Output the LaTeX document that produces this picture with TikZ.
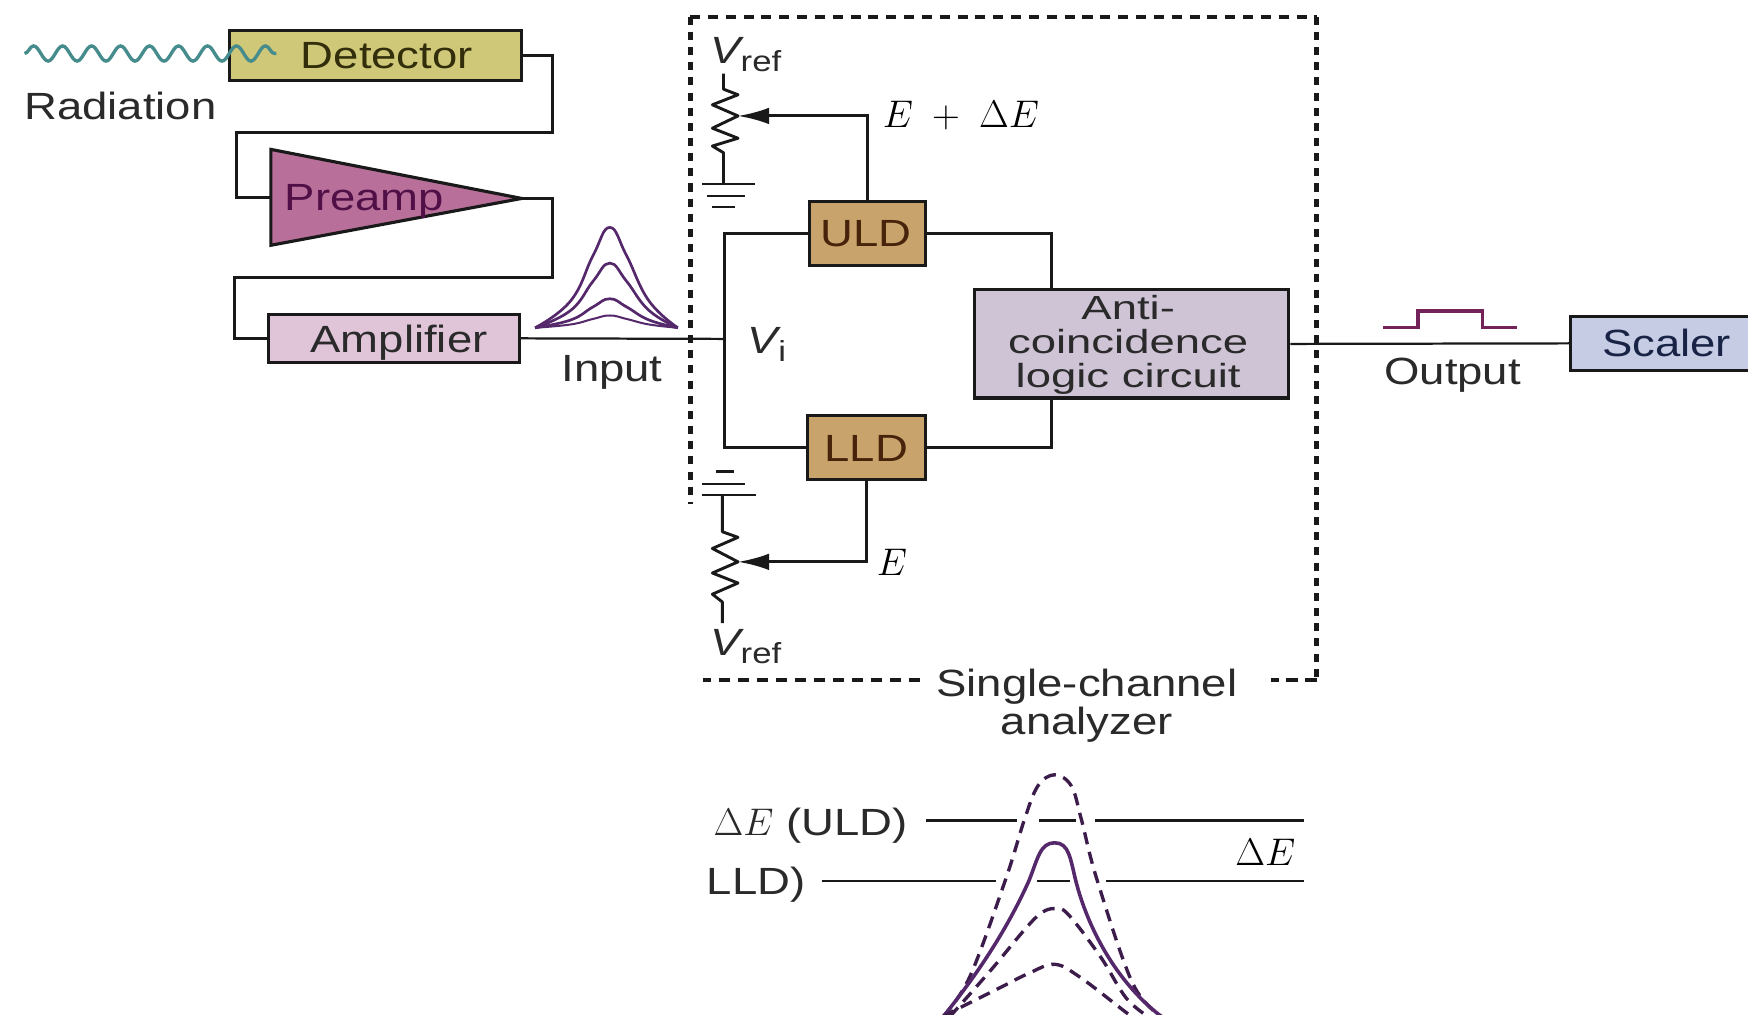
\documentclass[tikz,border=0pt]{standalone}
\usepackage{fontspec}
\setmainfont[FakeStretch=1.2]{Liberation Sans}
\newfontfamily\widefont[FakeStretch=1.36]{Liberation Sans}
\usetikzlibrary{decorations.pathmorphing,arrows.meta}
\definecolor{inkc}{HTML}{2A2A2A}
\definecolor{pulsec}{HTML}{54286A}
\definecolor{detfill}{HTML}{CFC878}
\definecolor{prefill}{HTML}{B8709A}
\definecolor{ampfill}{HTML}{E0C4D8}
\definecolor{discfill}{HTML}{C8A46C}
\definecolor{antifill}{HTML}{CFC3D6}
\definecolor{scalefill}{HTML}{C5CCE4}
\definecolor{dett}{HTML}{322D0A}
\definecolor{pret}{HTML}{500F46}
\definecolor{disct}{HTML}{46230A}
\definecolor{scalet}{HTML}{192346}
\definecolor{wavec}{HTML}{468C8C}
\definecolor{outc}{HTML}{73235A}
\tikzset{
  boxn/.style={draw=black!90,line width=1.4pt,inner sep=0pt},
  txt/.style={inner sep=0pt,text=inkc,font=\fontsize{17}{20}\selectfont},
  wire/.style={draw=black!90,line width=1.3pt,line join=miter},
  thin wire/.style={draw=black!90,line width=1pt},
  bell/.style={draw=pulsec,line width=1.3pt},
  dbell/.style={draw=black!30!pulsec,line width=1.5pt,dash pattern=on 5.5pt off 3.5pt},
  edge dash/.style={draw=black!90,line width=1.7pt},
  side dash/.style={draw=black!90,line width=2.2pt,dash pattern=on 3.6pt off 3.2pt},
  wipe/.style={-{Latex[length=14pt,width=7.5pt]},wire},
}
\newcommand{\vrefl}{{\itshape V}\raisebox{-3.5pt}{\fontsize{13}{13}\selectfont ref}}
\begin{document}
\begin{tikzpicture}[x=0.5pt,y=-0.5pt]
\useasboundingbox (0,0) rectangle (1568,910);
\clip (0,0) rectangle (1568,910);
\fill[white] (0,0) rectangle (1568,910);

% dashed frame
\coordinate (fa) at (619,15);
\coordinate (fb) at (1181,15);
\coordinate (fc) at (1181,610);
\coordinate (fd) at (1140,610);
\coordinate (fe) at (825,610);
\coordinate (ff) at (631,610);
\coordinate (fg) at (619,452);
\draw[side dash] (fa) -- (fg);
\draw[edge dash,dash pattern=on 4.5pt off 3.5pt] (fa) -- (fb);
\draw[side dash] (fb) -- (fc);
\draw[edge dash,dash pattern=on 5pt off 3.5pt] (fc) -- (fd);
\draw[edge dash,dash pattern=on 5pt off 3.5pt] (fe) -- (ff);

% boxes
\node[boxn,fill=detfill,minimum width=131pt,minimum height=22.5pt] (det) at (337,49.5) {};
\node[boxn,fill=ampfill,minimum width=112.5pt,minimum height=21.5pt] (amp) at (353.5,303.5) {};
\node[boxn,fill=discfill,minimum width=52pt,minimum height=28.5pt] (uld) at (778,209.5) {};
\node[boxn,fill=discfill,minimum width=53pt,minimum height=28.5pt] (lld) at (777,401.5) {};
\node[boxn,fill=antifill,minimum width=141pt,minimum height=48.5pt] (anti) at (1015,308.5) {};
\node[boxn,fill=scalefill,minimum width=100pt,minimum height=24pt] (scaler) at (1509,308) {};
\coordinate (pin) at (243,177);
\coordinate (ptop) at (243,134);
\coordinate (pbot) at (243,220);
\coordinate (pout) at (468,178);
\path[fill=prefill,draw=black!90,line width=1.4pt,line join=miter] (ptop) -- (pout) -- (pbot) -- cycle;

% texts
\node[txt,text=dett] (dettx) at (347,50) {Detector};
\node[txt] (rad) at (108,95) {Radiation};
\node[txt,text=pret] (pretx) at (327,181) {Preamp};
\node[txt] (ampt) at (358,307) {Amplifier};
\node[txt] (inp) at (549,334) {Input};
\node[txt,text=disct] (ult) at (777,210) {ULD};
\node[txt,text=disct] (llt) at (777,402) {LLD};
\node[txt,align=center,font=\widefont\fontsize{15}{15.3}\selectfont] (antit) at (1012,309) {Anti-\\coincidence\\logic circuit};
\node[txt] (out) at (1303,337) {Output};
\node[txt,text=scalet] (sct) at (1495,308) {Scaler};
\node[txt] (sc1) at (975,616) {Single-channel};
\node[txt] (sc2) at (975,650) {analyzer};
\node[txt] (vt) at (669,49) {\vrefl};
\node[txt] (vb) at (669,580) {\vrefl};
\node[txt] (vi) at (688,309) {{\itshape V}\raisebox{-3.5pt}{\fontsize{13}{13}\selectfont i}};
\node[txt,text=black,font=\fontsize{18}{20}\selectfont] (ede) at (862,104) {$E\;+\;\Delta E$};
\node[txt,text=black,font=\fontsize{18}{20}\selectfont] (el) at (800,504) {$E$};
\node[txt] (uldl) at (727,741) {$\Delta E$ (ULD)};
\node[txt,anchor=east] (lldl) at (723,794) {LLD)};
\node[txt,text=black] (der) at (1135,765) {$\Delta E$};

% radiation wave
\coordinate (w0) at (22,48);
\coordinate (w1) at (248,48);
\draw[draw=wavec,line width=1.5pt,decorate,decoration={snake,segment length=13pt,amplitude=3.4pt}] (w0) -- (w1);

% signal chain
\coordinate (j1) at (650,304);
\draw[wire] (det.east) -| (496,119) -| (212,177) -- (pin);
\draw[wire] (pout) -- (496,178) |- (210,249) |- (amp.west);
\draw[thin wire] (amp.east) -- (j1);
\draw[wire] (uld.west) -| (j1);
\draw[wire] (lld.west) -| (j1);
\draw[wire] (uld.east) -| (943,260);
\draw[wire] (lld.east) -| (943,357);
\draw[thin wire] (anti.east) -- (scaler.west);

% input pulses
\coordinate (pl) at (480,294);
\coordinate (pr) at (608,294);
\foreach \h/\s in {204/1.2,236/1.2,268/1.2,283/0.9}{
  \draw[bell,line width=\s pt] plot[smooth,tension=0.75] coordinates {(pl) (512,{294-0.27*(294-\h)}) (532,{294-0.72*(294-\h)}) (547,\h) (562,{294-0.72*(294-\h)}) (582,{294-0.27*(294-\h)}) (pr)};
}

% output pulse
\coordinate (oa) at (1241,294);
\coordinate (ob) at (1361,294);
\draw[draw=outc,line width=1.5pt] (oa) -- (1272,294) -- (1272,279) -- (1330,279) -- (1330,294) -- (ob);

% upper potentiometer
\coordinate (rt) at (649,66);
\coordinate (rw) at (662,104);
\coordinate (gt) at (649,165);
\draw[wire,line join=round] (rt) -- (649,80) -- (662,85) -- (639,94) -- (662,104) -- (639,115) -- (662,124) -- (639,131) -- (649,137) -- (gt);
\draw[wipe] (uld.north) |- (rw);
\draw[thin wire] (630,165) -- (677,165) (634,176) -- (668,176) (639,186) -- (659,186);

% lower potentiometer
\coordinate (gb) at (648,444);
\coordinate (rw2) at (662,504);
\coordinate (rb) at (648,559);
\draw[wire,line join=round] (gb) -- (648,477) -- (662,482) -- (639,492) -- (662,504) -- (639,514) -- (662,523) -- (639,533) -- (648,540) -- (rb);
\draw[wipe] (lld.south) |- (rw2);
\draw[thin wire] (630,444) -- (678,444) (630,434) -- (668,434) (642,423) -- (658,423);

% threshold lines
\draw[thin wire] (831,736) -- (912,736) (932,736) -- (965,736) (982,736) -- (1170,736);
\draw[thin wire] (737,790) -- (893,790) (930,790) -- (960,790) (992,790) -- (1170,790);

% lower pulses
\draw[dbell] plot[smooth,tension=0.6] coordinates {(846,912) (870,876) (902,789) (919,735) (931,705) (946,695) (961,705) (970,735) (984,789) (1016,882) (1042,912)};
\draw[bell,line width=1.6pt] (846,912) .. controls (880,870) and (905,830) .. (923,790) .. controls (931,770) and (933,756) .. (946,756) .. controls (959,756) and (960,770) .. (965,790) .. controls (975,830) and (1000,880) .. (1042,912);
\draw[dbell] plot[smooth,tension=0.6] coordinates {(852,912) (889,870) (919,834) (934,819) (946,815) (958,820) (987,858) (1010,895) (1030,912)};
\draw[dbell] plot[smooth,tension=0.6] coordinates {(846,912) (859,905) (897,886) (923,873) (946,865) (968,876) (1006,905) (1015,912)};
\end{tikzpicture}
\end{document}
